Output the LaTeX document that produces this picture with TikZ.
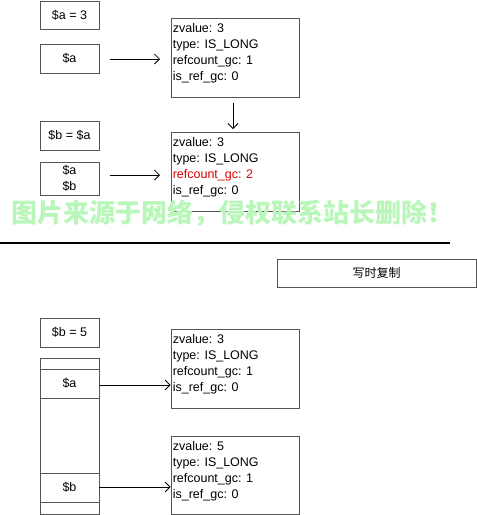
\documentclass[tikz,border=0pt]{standalone}
\usepackage{fontspec}
\setmainfont{Liberation Sans}
\newfontfamily\cjk{Noto Sans CJK SC}
\usetikzlibrary{arrows.meta}
\definecolor{wm}{RGB}{185,246,185}
\definecolor{bordercol}{RGB}{85,85,85}
\tikzset{
  every node/.style={font=\fontsize{12.5}{16}\selectfont},
  varbox/.style={draw=bordercol, line width=0.8pt, minimum width=59pt, inner sep=0pt, align=center},
  zbox/.style={draw=bordercol, line width=0.8pt, minimum width=128pt, minimum height=79pt, inner sep=0pt},
  ztext/.style={anchor=base west, align=left, inner sep=0pt},
  ptr/.style={line width=0.8pt, -{Straight Barb[length=5pt,width=10pt]}},
}
\begin{document}
\begin{tikzpicture}[x=1pt,y=-1pt]
\useasboundingbox (0,0) rectangle (477,515);
% top part
\node[varbox, minimum height=28pt] (a3) at (69.5,15) {\$a = 3};
\node[varbox, minimum height=29pt] (va) at (69.5,58.5) {\$a};
\node[zbox] (z1) at (235,57.5) {};
\node[ztext] (t1) at ([shift={(2,63)}]z1.north west) {zvalue: 3\\type: IS\_LONG\\refcount\_gc: 1\\is\_ref\_gc: 0};
\coordinate (a1s) at (110,59);
\coordinate (a1e) at (160,59);
\draw[ptr] (a1s) -- (a1e);
\coordinate (d1s) at (233,103);
\coordinate (d1e) at (233,129);
\draw[ptr] (d1s) -- (d1e);

\node[varbox, minimum height=29pt] (bea) at (69.5,135.5) {\$b = \$a};
\node[varbox, minimum height=33pt] (vab) at (69.5,178.5) {\$a\\\$b};
\node[zbox] (z2) at (235,171.5) {};
\node[ztext] (t2) at ([shift={(2,63)}]z2.north west) {zvalue: 3\\type: IS\_LONG\\\textcolor{red!85!black}{refcount\_gc: 2}\\is\_ref\_gc: 0};
\coordinate (a2s) at (110,175);
\coordinate (a2e) at (160,175);
\draw[ptr] (a2s) -- (a2e);

% watermark
\node[font=\cjk\bfseries\fontsize{26}{26}\selectfont, text=wm, anchor=west, inner sep=0pt] (wmk) at (11,213) {图片来源于网络，侵权联系站长删除！};

% separator
\coordinate (l1) at (0,243);
\coordinate (l2) at (450,243);
\draw[line width=1.2pt] (l1) -- (l2);
\node[varbox, minimum width=199pt, minimum height=28pt, font=\cjk\fontsize{12}{14}\selectfont] (cow) at (376.5,273) {写时复制};

% bottom part
\node[varbox, minimum height=29pt] (b5) at (69.5,332.5) {\$b = 5};
\node[draw=bordercol, line width=0.8pt, minimum width=59pt, minimum height=156pt, inner sep=0pt] (stack) at (69.5,436) {};
\draw[draw=bordercol, line width=0.8pt] (40,369) -- (99,369) (40,398) -- (99,398) (40,473) -- (99,473) (40,502) -- (99,502);
\node[inner sep=0pt] (sa) at (69.5,383.5) {\$a};
\node[inner sep=0pt] (sb) at (69.5,487.5) {\$b};
\node[zbox] (z3) at (235,368.5) {};
\node[ztext] (t3) at ([shift={(2,63)}]z3.north west) {zvalue: 3\\type: IS\_LONG\\refcount\_gc: 1\\is\_ref\_gc: 0};
\node[zbox, minimum height=78pt] (z4) at (235,475) {};
\node[ztext] (t4) at ([shift={(2,63)}]z4.north west) {zvalue: 5\\type: IS\_LONG\\refcount\_gc: 1\\is\_ref\_gc: 0};
\draw[ptr] (stack.east |- 0,385) -- (z3.west |- 0,385);
\draw[ptr] (stack.east |- 0,487) -- (z4.west |- 0,487);
\end{tikzpicture}
\end{document}
